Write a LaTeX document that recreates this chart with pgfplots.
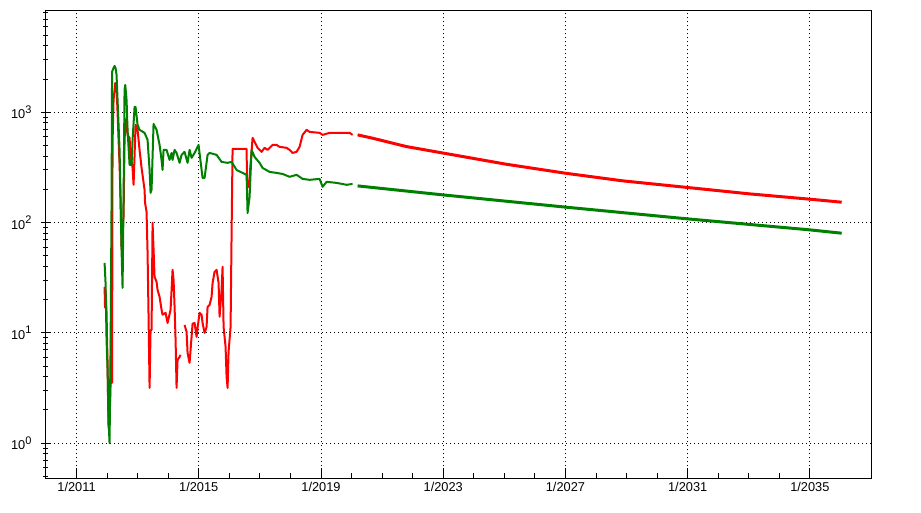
\documentclass[border=0pt]{standalone}
\usepackage{fontspec}
\setmainfont{Liberation Sans}
\usepackage{pgfplots}
\pgfplotsset{compat=1.18}
\definecolor{dgreen}{RGB}{0,128,0}
\newcommand{\tp}[1]{10\raisebox{0.45em}{\fontsize{11}{11}\selectfont #1}}
\begin{document}
\begin{tikzpicture}[x=1pt,y=1pt]
\path[use as bounding box] (0,0) rectangle (921,513);
\begin{axis}[
  at={(46pt,34.7pt)}, anchor=south west,
  scale only axis, width=825pt, height=467.6pt,
  xmin=2010, xmax=2037, ymode=log, ymin=0.48, ymax=8340,
  xtick={2011,2015,2019,2023,2027,2031,2035},
  xticklabels={1/2011,1/2015,1/2019,1/2023,1/2027,1/2031,1/2035},
  minor x tick num=3,
  ytick={1,10,100,1000},
  yticklabels={\tp{0},\tp{1},\tp{2},\tp{3}},
  minor ytick={0.5,0.6,0.7,0.8,0.9,2,3,4,5,6,7,8,9,20,30,40,50,60,70,80,90,200,300,400,500,600,700,800,900,2000,3000,4000,5000,6000,7000,8000},
  xtick pos=bottom, ytick pos=left,
  tick align=inside,
  major tick length=10pt, minor tick length=5pt,
  major y tick style={xshift=-5pt},
  minor y tick style={xshift=-2.5pt},
  xmajorgrids, ymajorgrids,
  major grid style={black, line width=1pt, dash pattern=on 1pt off 3pt},
  axis line style={black, line width=1pt},
  tick style={black, line width=1pt},
  tick label style={font=\fontsize{12.8}{14}\selectfont},
  yticklabel style={xshift=-11pt},
  unbounded coords=jump,
  clip=true,
]
% red historic
\addplot[red, line width=2pt, line join=round] coordinates {
(2011.917,26.1) (2011.933,16.9) (2011.949,24.5) (2011.982,15.2) (2011.998,8.64)
(2012.015,5.35) (2012.031,2.47) (2012.047,1.38) (2012.080,1.53) (2012.113,3.38)
(2012.146,30.2) (2012.162,3.52) (2012.178,528) (2012.211,1295) (2012.267,1847)
(2012.309,1664) (2012.342,1008) (2012.375,562) (2012.408,334) (2012.440,161)
(2012.473,56.6) (2012.506,95.3) (2012.538,113) (2012.571,562) (2012.604,819)
(2012.637,890) (2012.669,624) (2012.735,586) (2012.768,411) (2012.833,313)
(2012.866,220) (2012.899,411) (2012.931,769) (2012.997,693) (2013.062,456)
(2013.128,313) (2013.226,198) (2013.242,151) (2013.291,125) (2013.324,53.1)
(2013.357,13.7) (2013.390,3.17) (2013.422,10.6) (2013.455,10.6) (2013.488,99.4)
(2013.553,32.2) (2013.619,29.0) (2013.651,24.5) (2013.717,21.2) (2013.782,16.2)
(2013.815,14.6) (2013.913,15.2) (2013.979,12.3) (2014.077,16.2) (2014.110,24.5)
(2014.142,37.3) (2014.175,30.2) (2014.208,17.2) (2014.241,8.64) (2014.273,3.17)
(2014.306,5.69) (2014.372,6.06) (2014.404,6.32) (2014.470,nan)
(2014.535,11.8) (2014.601,10.2) (2014.633,6.59) (2014.699,5.35) (2014.764,9.2)
(2014.797,12.1) (2014.863,12.3) (2014.928,9.2) (2014.961,11.1) (2015.026,15.2)
(2015.092,14.6) (2015.124,12.3) (2015.190,10.0) (2015.255,11.3) (2015.288,17.2)
(2015.354,17.9) (2015.419,21.2) (2015.452,28.4) (2015.517,35.7) (2015.583,37.3)
(2015.648,28.4) (2015.681,14.0) (2015.746,24.5) (2015.779,39.7) (2015.812,11.3)
(2015.877,7.47) (2015.910,3.99) (2015.943,3.17) (2015.975,6.73) (2016.041,11.3)
(2016.074,80.6) (2016.106,466) (2016.336,466) (2016.565,466) (2016.581,211)
(2016.630,211) (2016.663,260) (2016.761,586) (2016.826,539) (2016.925,476)
(2017.056,438) (2017.154,476) (2017.252,456) (2017.416,506) (2017.547,506)
(2017.645,486) (2017.874,476) (2017.972,456) (2018.070,428) (2018.201,438)
(2018.299,486) (2018.398,624) (2018.529,693) (2018.627,664) (2018.954,651)
(2019.052,624) (2019.281,651) (2019.609,651) (2019.936,651) (2020.034,624)
};
% green historic
\addplot[dgreen, line width=2pt, line join=round] coordinates {
(2011.917,43.1) (2011.949,28.4) (2011.982,8.64) (2012.015,4.62) (2012.047,1.63)
(2012.080,1.0) (2012.113,7.01) (2012.146,161) (2012.162,2325) (2012.211,2527)
(2012.244,2634) (2012.277,2527) (2012.309,2183) (2012.342,1295) (2012.408,456)
(2012.473,56.6) (2012.506,25.6) (2012.538,161) (2012.571,1597) (2012.594,1772)
(2012.637,1295) (2012.669,693) (2012.735,334) (2012.800,334) (2012.833,562)
(2012.899,1119) (2012.931,1119) (2012.997,769) (2013.062,693) (2013.226,651)
(2013.324,562) (2013.390,300) (2013.422,186) (2013.455,198) (2013.520,785)
(2013.619,693) (2013.717,506) (2013.782,370) (2013.815,300) (2013.848,456)
(2013.946,456) (2014.044,370) (2014.110,428) (2014.142,370) (2014.208,456)
(2014.273,428) (2014.372,348) (2014.437,411) (2014.535,438) (2014.633,348)
(2014.699,456) (2014.764,386) (2014.863,428) (2014.993,506) (2015.124,254)
(2015.190,254) (2015.288,411) (2015.354,428) (2015.583,411) (2015.746,355)
(2015.943,348) (2016.074,355) (2016.237,300) (2016.434,282) (2016.565,271)
(2016.597,122) (2016.663,171) (2016.728,456) (2016.826,394) (2016.990,348)
(2017.088,313) (2017.318,288) (2017.547,282) (2017.743,276) (2017.972,260)
(2018.201,271) (2018.398,249) (2018.627,244) (2018.954,249) (2019.052,211)
(2019.183,234) (2019.511,229) (2019.838,220) (2020.034,224)
};
% red projection
\addplot[red, line width=3pt] coordinates {
(2020.198,624) (2020.689,582) (2021.792,489) (2023.013,426) (2025.066,338)
(2027.007,280) (2028.872,239) (2031.0,208) (2033.03,182) (2034.993,163) (2036.041,153)
};
% green projection
\addplot[dgreen, line width=3pt] coordinates {
(2020.198,215) (2023.013,178) (2027.007,138) (2031.0,108) (2034.993,85.9) (2036.041,80.1)
};
\end{axis}
\end{tikzpicture}
\end{document}
